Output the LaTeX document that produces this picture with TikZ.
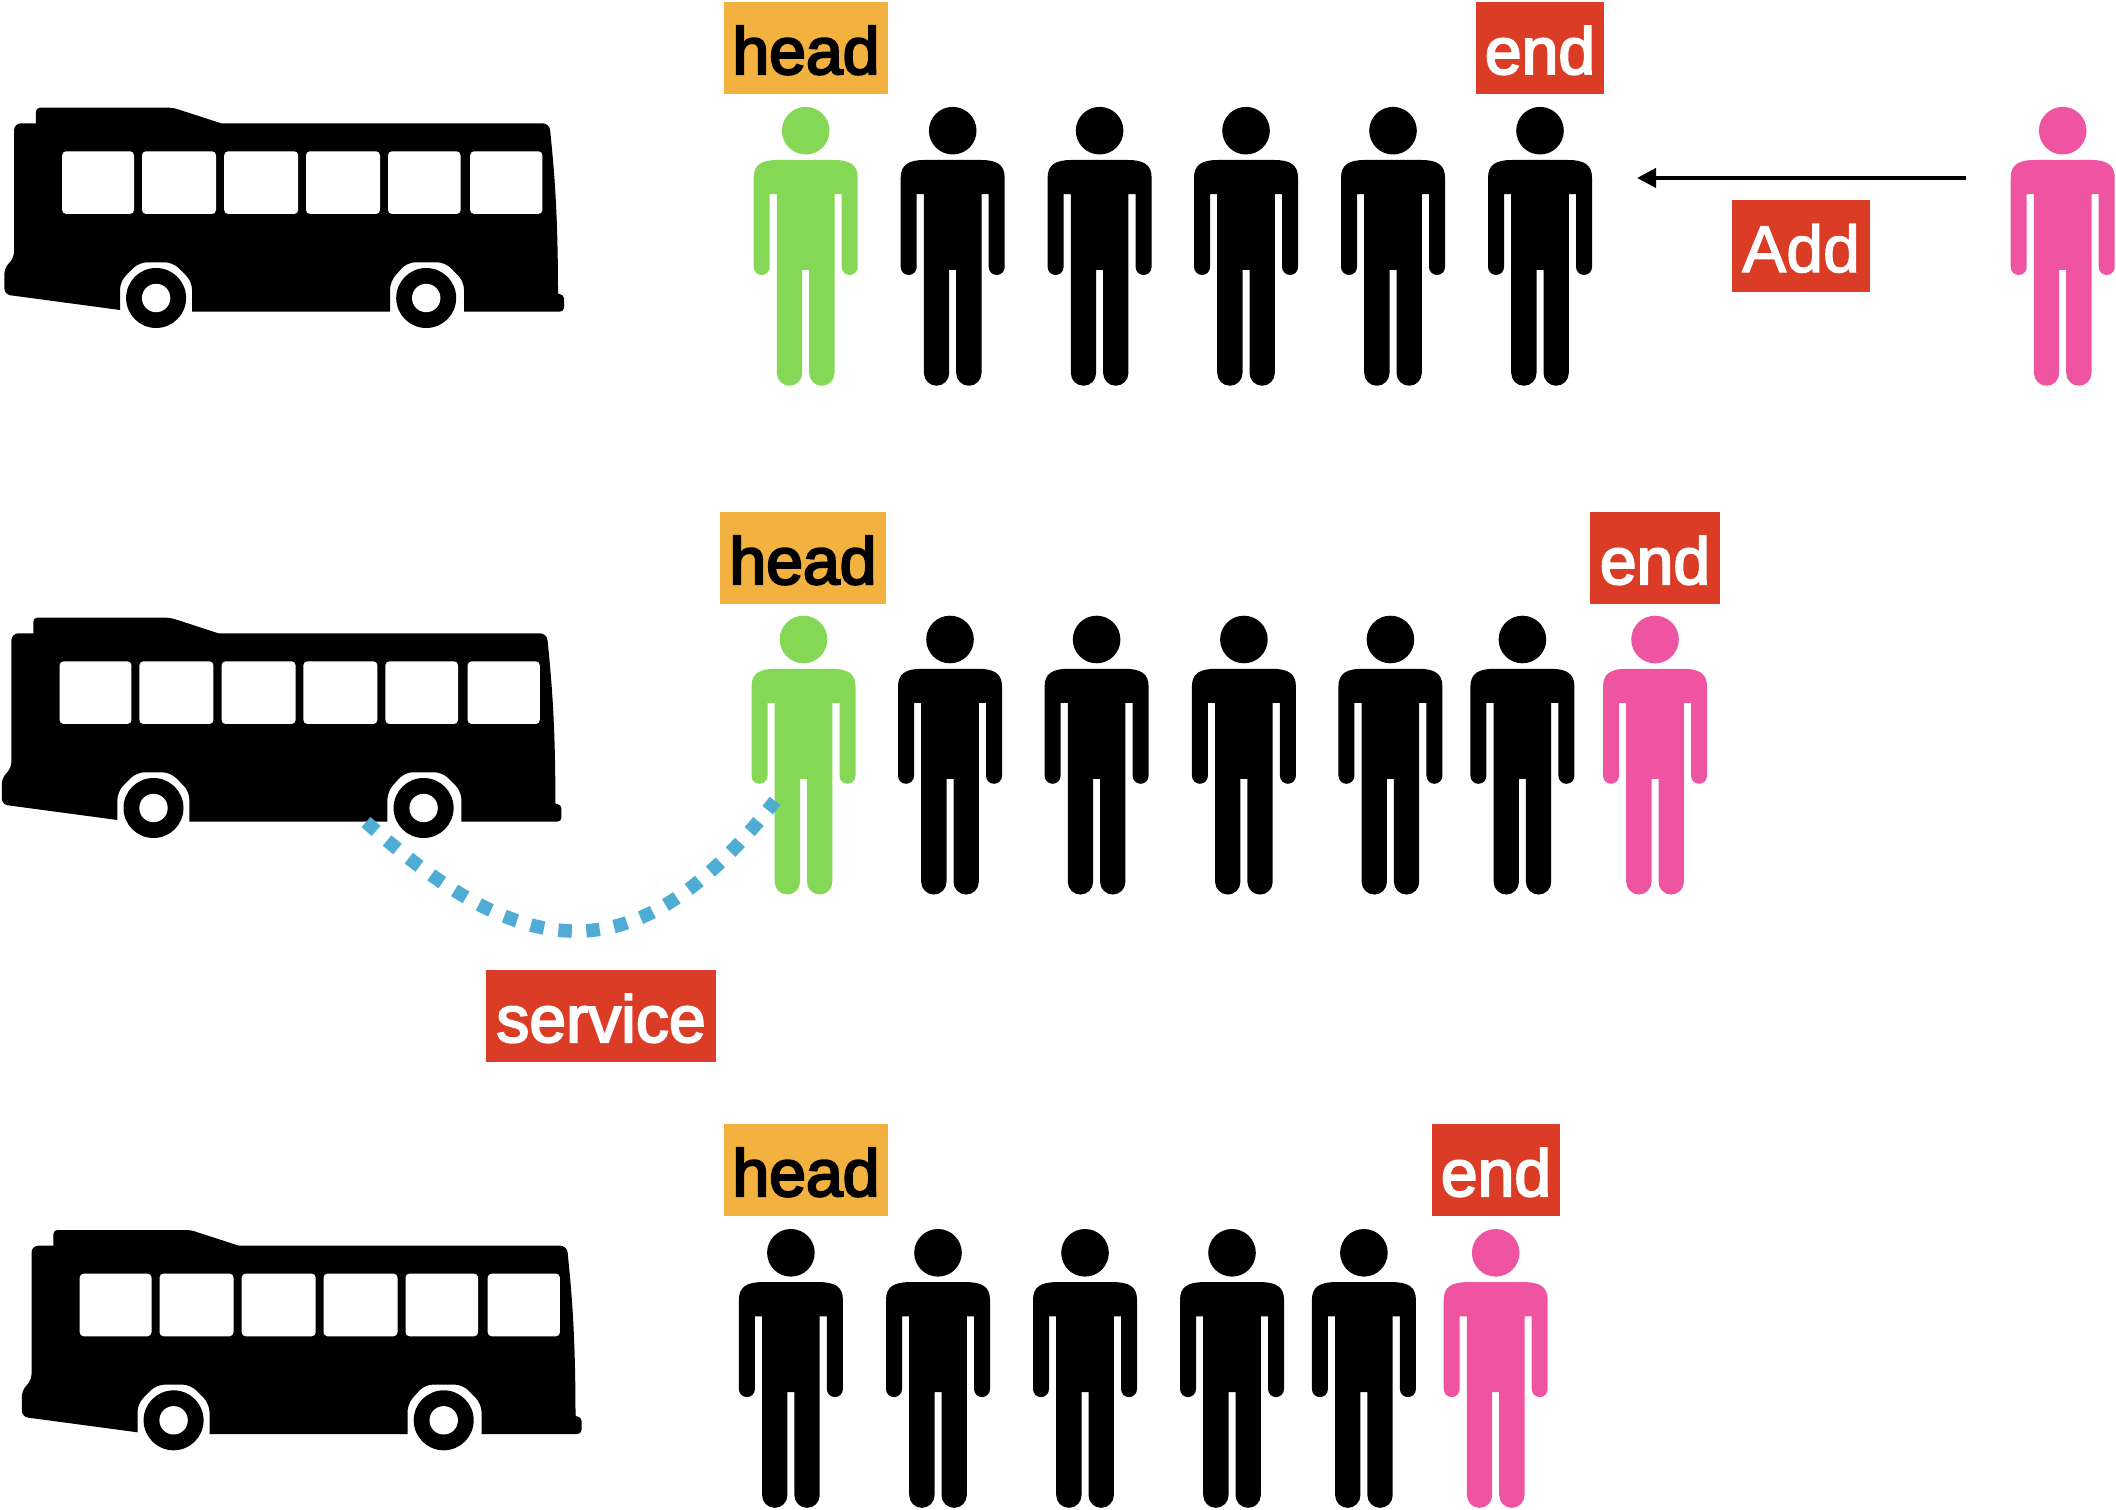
\documentclass[tikz,border=0pt]{standalone}
\usepackage{fontspec}
\usetikzlibrary{arrows.meta}
\font\headboxfont="Liberation Sans:embolden=3.5" at 18.8pt
\font\endboxfont="Liberation Sans:embolden=3" at 18.8pt
\font\addboxfont="Liberation Sans:embolden=2" at 18.8pt
\definecolor{headorange}{RGB}{243,177,63}
\definecolor{endred}{RGB}{218,60,38}
\definecolor{firstgreen}{RGB}{133,216,86}
\definecolor{lastpink}{RGB}{238,84,160}
\definecolor{serviceblue}{RGB}{79,173,213}
\tikzset{
    labelbox/.style={inner sep=0pt,minimum height=.92cm,text height=.52cm,text depth=0pt},
    headbox/.style={labelbox,fill=headorange,text=black,minimum width=1.64cm,font=\headboxfont},
    endbox/.style={labelbox,fill=endred,text=white,minimum width=1.28cm,font=\endboxfont},
    addarrow/.style={line width=.04cm,-{Triangle[length=.19cm,width=.19cm]}},
    servicearc/.style={serviceblue,line width=.135cm,dash pattern=on .135cm off .145cm},
    pics/person/.style={code={
        \fill[pic actions] (0,0) circle[radius=23.8];
        \fill[pic actions] (-52,47) .. controls (-52,34) and (-44,29.3) .. (-28,29.3) -- (28,29.3)
            .. controls (44,29.3) and (52,34) .. (52,47) -- (52,136.3)
            arc[start angle=0,end angle=180,radius=8] -- (36,63.5) -- (28.8,63.5) -- (28.8,242.4)
            arc[start angle=0,end angle=180,radius=12.65] -- (3.5,139.3) -- (-3.5,139.3) -- (-3.5,242.4)
            arc[start angle=0,end angle=180,radius=12.65] -- (-28.8,63.5) -- (-36,63.5) -- (-36,136.3)
            arc[start angle=0,end angle=180,radius=8] -- cycle;
    }},
    pics/bus/.style={code={
        % raised cab, then the body
        \fill[black,rounded corners=.04cm] (35.9,60) -- (35.9,17.7) -- (173,17.7)
            [sharp corners] -- (221,33.3) -- (221,60) -- cycle;
        \fill[black,rounded corners=.07cm] (14,100) -- (14,33.3) -- (549.5,33.3)
            -- (552.7,66.7) [rounded corners=.01cm] .. controls (555.5,100) and (558,140) .. (558,204)
            [rounded corners=.04cm] -- (564,204.5) -- (564,221.7) [sharp corners] -- (464,221.7)
            [rounded corners=.08cm] -- (464,191.5) -- (445.2,172.3) -- (407.2,172.3) -- (390,191.5)
            [sharp corners] -- (390,221.7) -- (192,221.7)
            [rounded corners=.08cm] -- (192,191.5) -- (173,172.3) -- (139,172.3) -- (120,191.5)
            [sharp corners] -- (120,220) [rounded corners=.06cm] -- (4.4,204.5) -- (4.4,178)
            -- (14,168) -- cycle;
        \foreach \a/\b in {62.2/134,142/216,224.2/298.2,306/380,388/460.6,470.2/542.4}
            \fill[white,rounded corners=.04cm] (\a,61.3) rectangle (\b,124);
        \foreach \w in {156.1,426.2} {
            \fill[black] (\w,208) circle[radius=30];
            \fill[white] (\w,208) circle[radius=14.2];
        }
    }},
}
\begin{document}
\begin{tikzpicture}[x=.01cm,y=-.01cm]
    \useasboundingbox (0,0) rectangle (2116,1510);
    % buses
    \pic at (0,90) {bus};
    \pic at (-2.6,600) {bus};
    \pic at (17.5,1212.3) {bus};
    % top row
    \pic[fill=firstgreen] at (805.7,130.7) {person};
    \foreach \x in {952.7,1099.6,1246,1393,1540}
        \pic[fill=black] at (\x,130.7) {person};
    \pic[fill=lastpink] at (2062.7,130.7) {person};
    % middle row
    \pic[fill=firstgreen] at (803.5,639.5) {person};
    \foreach \x in {950,1096.6,1243.9,1390.4,1522.4}
        \pic[fill=black] at (\x,639.5) {person};
    \pic[fill=lastpink] at (1655,639.5) {person};
    % bottom row
    \foreach \x in {790.9,938,1085,1232,1363.9}
        \pic[fill=black] at (\x,1252.8) {person};
    \pic[fill=lastpink] at (1495.7,1252.8) {person};
    % labels
    \node[headbox] (headtop) at (806,48) {head};
    \node[endbox] (endtop) at (1540,48) {end};
    \node[endbox,minimum width=1.38cm,font=\addboxfont] (add) at (1801,246) {Add};
    \node[headbox,minimum width=1.66cm] (headmid) at (803,558) {head};
    \node[endbox,minimum width=1.30cm] (endmid) at (1655,558) {end};
    \node[endbox,minimum width=2.30cm] (service) at (601,1016) {service};
    \node[headbox] (headbot) at (806,1170) {head};
    \node[endbox] (endbot) at (1496,1170) {end};
    % add and service
    \coordinate (addfrom) at (1966,178);
    \coordinate (addto) at (1637,178);
    \draw[addarrow] (addfrom) -- (addto);
    \coordinate (busdoor) at (366,822);
    \coordinate (firstleg) at (775,801);
    \draw[servicearc] (busdoor) .. controls (531,970.8) and (642,970.8) .. (firstleg);
\end{tikzpicture}
\end{document}
